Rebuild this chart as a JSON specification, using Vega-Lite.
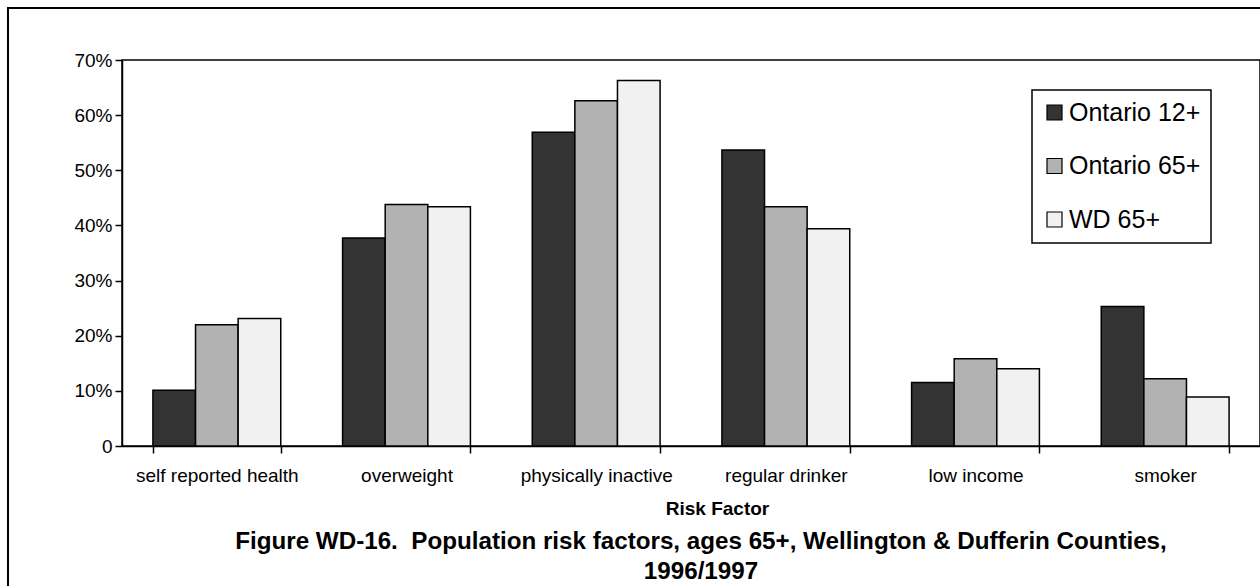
{
  "$schema": "https://vega.github.io/schema/vega-lite/v6.json",
  "width": 1138,
  "height": 386,
  "autosize": {"type": "none"},
  "padding": {"left": 122, "top": 60, "right": 0, "bottom": 140},
  "background": "white",
  "config": {
    "font": "Liberation Sans",
    "view": {"stroke": "black", "strokeWidth": 1.5},
    "axis": {"domainColor": "black", "domainWidth": 1.5, "tickColor": "black", "tickWidth": 1.5, "labelColor": "black", "titleColor": "black", "grid": false}
  },
  "title": {
    "text": ["Figure WD-16.\u00a0 Population risk factors, ages 65+, Wellington & Dufferin Counties,", "1996/1997"],
    "orient": "bottom",
    "anchor": "middle",
    "font": "Liberation Sans",
    "fontSize": 24.2,
    "fontWeight": "bold",
    "color": "black",
    "lineHeight": 30,
    "offset": 0,
    "dx": 10,
    "dy": -61
  },
  "data": {
    "values": [
      {"factor": "self reported health", "group": "Ontario 12+", "pct": 10.1},
      {"factor": "self reported health", "group": "Ontario 65+", "pct": 22.0},
      {"factor": "self reported health", "group": "WD 65+", "pct": 23.1},
      {"factor": "overweight", "group": "Ontario 12+", "pct": 37.7},
      {"factor": "overweight", "group": "Ontario 65+", "pct": 43.8},
      {"factor": "overweight", "group": "WD 65+", "pct": 43.4},
      {"factor": "physically inactive", "group": "Ontario 12+", "pct": 56.9},
      {"factor": "physically inactive", "group": "Ontario 65+", "pct": 62.6},
      {"factor": "physically inactive", "group": "WD 65+", "pct": 66.3},
      {"factor": "regular drinker", "group": "Ontario 12+", "pct": 53.7},
      {"factor": "regular drinker", "group": "Ontario 65+", "pct": 43.4},
      {"factor": "regular drinker", "group": "WD 65+", "pct": 39.4},
      {"factor": "low income", "group": "Ontario 12+", "pct": 11.5},
      {"factor": "low income", "group": "Ontario 65+", "pct": 15.8},
      {"factor": "low income", "group": "WD 65+", "pct": 14.0},
      {"factor": "smoker", "group": "Ontario 12+", "pct": 25.3},
      {"factor": "smoker", "group": "Ontario 65+", "pct": 12.2},
      {"factor": "smoker", "group": "WD 65+", "pct": 8.9}
    ]
  },
  "layer": [
    {
      "data": {"values": [{"frame": 1}]},
      "mark": {"type": "rect", "fill": null, "stroke": "black", "strokeWidth": 2, "clip": false},
      "encoding": {
        "x": {"value": -114},
        "y": {"value": -52},
        "x2": {"value": 1160},
        "y2": {"value": 530}
      }
    },
    {
      "mark": {"type": "bar", "stroke": "black", "strokeWidth": 1.5},
      "encoding": {
        "x": {
          "field": "factor", "type": "nominal",
          "sort": ["self reported health", "overweight", "physically inactive", "regular drinker", "low income", "smoker"],
          "scale": {"paddingInner": 0.326, "paddingOuter": 0.163},
          "axis": {
            "title": "Risk Factor", "titleFontSize": 19, "titleFontWeight": "bold",
            "titleX": 595, "titleY": 68, "titleBaseline": "alphabetic",
            "labelAngle": 0, "labelFontSize": 19, "labelPadding": 13, "tickSize": 7,
            "tickBand": "extent"
          }
        },
        "xOffset": {
          "field": "group", "type": "nominal",
          "sort": ["Ontario 12+", "Ontario 65+", "WD 65+"],
          "scale": {"paddingInner": 0, "paddingOuter": 0}
        },
        "y": {
          "field": "pct", "type": "quantitative",
          "scale": {"domain": [0, 70], "nice": false},
          "axis": {
            "title": null, "values": [0, 10, 20, 30, 40, 50, 60, 70],
            "labelExpr": "datum.value == 0 ? '0' : datum.value + '%'",
            "labelFontSize": 19, "labelPadding": 3, "tickSize": 7
          }
        },
        "color": {
          "field": "group", "type": "nominal",
          "scale": {"domain": ["Ontario 12+", "Ontario 65+", "WD 65+"], "range": ["#333333", "#b2b2b2", "#f1f1f1"]},
          "legend": {
            "title": null, "orient": "none", "legendX": 910, "legendY": 30,
            "direction": "vertical",
            "strokeColor": "black", "padding": 10,
            "symbolType": "square", "symbolSize": 225, "symbolStrokeColor": "black", "symbolStrokeWidth": 1.2,
            "symbolOpacity": 1,
            "labelFontSize": 25, "labelColor": "black", "labelOffset": 2, "rowPadding": 27.5,
            "encode": {"legend": {"update": {"strokeWidth": {"value": 1.5}}}}
          }
        }
      }
    }
  ]
}
